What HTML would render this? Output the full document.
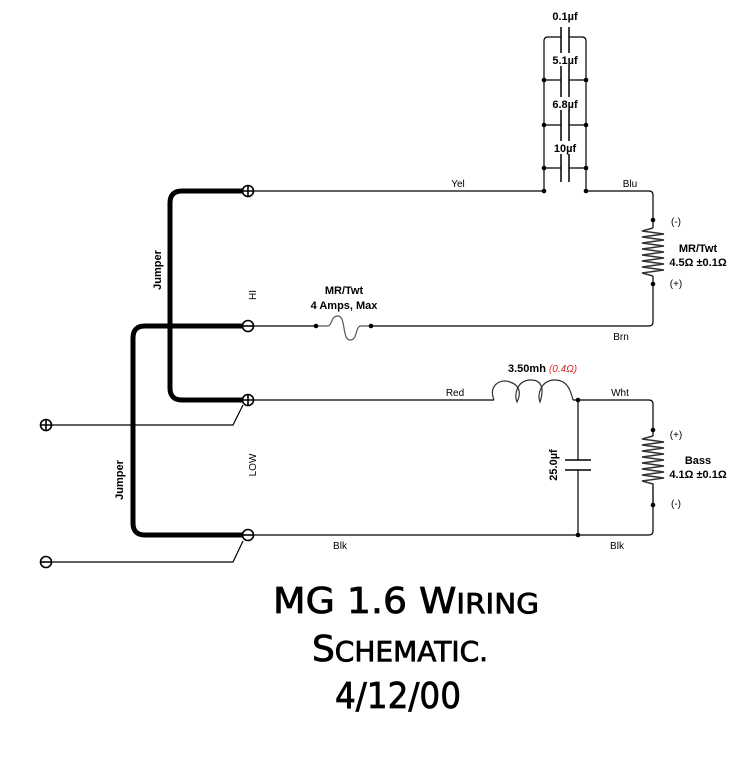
<!DOCTYPE html>
<html><head><meta charset="utf-8"><style>
html,body{margin:0;padding:0;background:#fff}
svg{display:block}
.s{font-family:"Liberation Sans",sans-serif;font-size:10px;fill:#000}
.b{font-family:"Liberation Sans",sans-serif;font-size:11px;font-weight:bold;fill:#000}
.t{font-family:"DejaVu Sans",sans-serif;fill:#000;stroke:#000;stroke-width:0.8}
</style></head><body>
<svg width="750" height="763" viewBox="0 0 750 763" xmlns="http://www.w3.org/2000/svg">
<g stroke="#000" fill="none" stroke-width="1.2">
<path d="M248,191 H182 Q170,191 170,203 V388 Q170,400 182,400 H248" stroke-width="5"/>
<path d="M248,326 H145 Q133,326 133,338 V523 Q133,535 145,535 H248" stroke-width="5"/>
<path d="M254,191 H544 M586,191 H649 Q653,191 653,195 V220"/>
<path d="M544,191 V41 Q544,37 548,37 H561 M569,37 H582 Q586,37 586,41 V191"/>
<path d="M544,80 H561 M569,80 H586 M544,125 H561 M569,125 H586 M544,168 H561 M569,168 H586"/>
<path d="M561,27 V182 M569,27 V182" stroke-width="1.5"/>
<path d="M653,220 V228 M653,276 V284 V322 Q653,326 649,326 H371 M316,326 H254"/>
<path d="M653,228 l-11,3 l22,3 l-22,3 l22,3 l-22,3 l22,3 l-22,3 l22,3 l-22,3 l22,3 l-22,3 l22,3 l-22,3 l22,3 l-22,3 l11,3" stroke="#333" stroke-width="1.5"/>
<path d="M316,326 H327 C333,326 330,316 338,316 C346,316 342,340 350,340 C358,340 355,326 361,326 H371" stroke="#555"/>
<path d="M254,400 H494"/>
<path d="M494,400 C488,386 500,378 510,382 C522,386 520,396 517,402 C514,396 516,380 531,380 C546,380 542,396 540,402 C537,396 540,380 555,380 C568,380 571,392 573,400" stroke="#333"/>
<path d="M573,400 H649 Q653,400 653,404 V430 M653,486 V505 V531 Q653,535 649,535 H254"/>
<path d="M653,436 l-11,3 l22,3 l-22,3 l22,3 l-22,3 l22,3 l-22,3 l22,3 l-22,3 l22,3 l-22,3 l22,3 l-22,3 l22,3 l-22,3 l11,3 V505" stroke="#333" stroke-width="1.5"/>
<path d="M653,430 V436"/>
<path d="M578,400 V460 M578,470 V535"/>
<path d="M565,460 H591 M565,470 H591" stroke-width="1.5"/>
<path d="M52,425 H233 L243,405"/>
<path d="M52,562 H233 L243,541"/>
</g>
<g fill="#000">
<circle cx="544" cy="80" r="2.3"/><circle cx="586" cy="80" r="2.3"/>
<circle cx="544" cy="125" r="2.3"/><circle cx="586" cy="125" r="2.3"/>
<circle cx="544" cy="168" r="2.3"/><circle cx="586" cy="168" r="2.3"/>
<circle cx="544" cy="191" r="2.3"/><circle cx="586" cy="191" r="2.3"/>
<circle cx="653" cy="220" r="2.3"/><circle cx="653" cy="284" r="2.3"/>
<circle cx="316" cy="326" r="2.3"/><circle cx="371" cy="326" r="2.3"/>
<circle cx="578" cy="400" r="2.3"/><circle cx="578" cy="535" r="2.3"/>
<circle cx="653" cy="430" r="2.3"/><circle cx="653" cy="505" r="2.3"/>
</g>
<g stroke="#000" stroke-width="1.6" fill="#fff">
<circle cx="248" cy="191" r="5.5"/><path d="M242.5,191 H253.5 M248,185.5 V196.5"/>
<circle cx="248" cy="326" r="5.5"/><path d="M242.5,326 H253.5"/>
<circle cx="248" cy="400" r="5.5"/><path d="M242.5,400 H253.5 M248,394.5 V405.5"/>
<circle cx="248" cy="535" r="5.5"/><path d="M242.5,535 H253.5"/>
<circle cx="46" cy="425" r="5.5"/><path d="M40.5,425 H51.5 M46,419.5 V430.5"/>
<circle cx="46" cy="562" r="5.5"/><path d="M40.5,562 H51.5"/>
</g>
<g>
<rect x="548" y="9" width="34" height="13" fill="#fff"/>
<rect x="548" y="53" width="34" height="13" fill="#fff"/>
<rect x="548" y="97" width="34" height="13" fill="#fff"/>
<rect x="550" y="141" width="30" height="13" fill="#fff"/>
</g>
<text class="b" x="565" y="20" text-anchor="middle">0.1µf</text>
<text class="b" x="565" y="64" text-anchor="middle">5.1µf</text>
<text class="b" x="565" y="108" text-anchor="middle">6.8µf</text>
<text class="b" x="565" y="152" text-anchor="middle">10µf</text>
<text class="s" x="458" y="187" text-anchor="middle">Yel</text>
<text class="s" x="630" y="187" text-anchor="middle">Blu</text>
<text class="s" x="676" y="225" text-anchor="middle">(-)</text>
<text class="s" x="676" y="287" text-anchor="middle">(+)</text>
<text class="b" x="698" y="252" text-anchor="middle">MR/Twt</text>
<text class="b" x="698" y="266" text-anchor="middle">4.5Ω ±0.1Ω</text>
<text class="s" x="621" y="340" text-anchor="middle">Brn</text>
<text class="b" x="344" y="294" text-anchor="middle">MR/Twt</text>
<text class="b" x="344" y="309" text-anchor="middle">4 Amps, Max</text>
<text class="s" x="455" y="396" text-anchor="middle">Red</text>
<text class="b" x="508" y="372">3.50mh <tspan fill="#e02020" font-weight="normal" font-style="italic" font-size="10">(0.4Ω)</tspan></text>
<text class="s" x="620" y="396" text-anchor="middle">Wht</text>
<text class="s" x="676" y="438" text-anchor="middle">(+)</text>
<text class="s" x="676" y="507" text-anchor="middle">(-)</text>
<text class="b" x="698" y="464" text-anchor="middle">Bass</text>
<text class="b" x="698" y="478" text-anchor="middle">4.1Ω ±0.1Ω</text>
<text class="s" x="340" y="549" text-anchor="middle">Blk</text>
<text class="s" x="617" y="549" text-anchor="middle">Blk</text>
<text class="b" transform="translate(557,465) rotate(-90)" text-anchor="middle">25.0µf</text>
<text class="s" transform="translate(256,295) rotate(-90)" text-anchor="middle">HI</text>
<text class="s" transform="translate(256,465) rotate(-90)" text-anchor="middle">LOW</text>
<text class="b" transform="translate(161,270) rotate(-90)" text-anchor="middle">Jumper</text>
<text class="b" transform="translate(123,480) rotate(-90)" text-anchor="middle">Jumper</text>
<text class="t" x="406" y="613" text-anchor="middle" font-size="36" textLength="266" lengthAdjust="spacingAndGlyphs">MG 1.6 W<tspan font-size="28">IRING</tspan></text>
<text class="t" x="400" y="661" text-anchor="middle" font-size="36">S<tspan font-size="28">CHEMATIC.</tspan></text>
<text class="t" x="398" y="708" text-anchor="middle" font-size="36" textLength="126" lengthAdjust="spacingAndGlyphs">4/12/00</text>
</svg>
</body></html>
